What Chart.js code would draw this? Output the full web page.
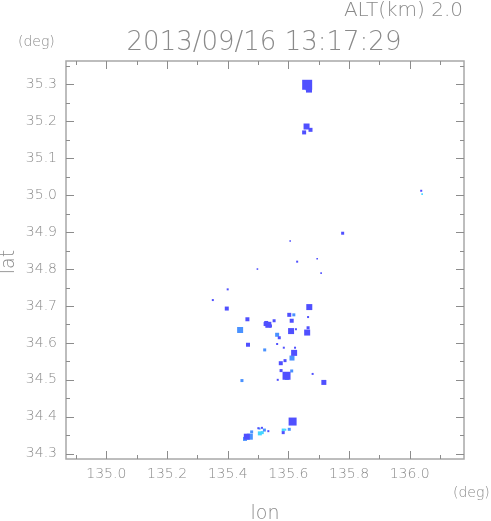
<!DOCTYPE html>
<html>
<head>
<meta charset="utf-8">
<script src="https://cdn.jsdelivr.net/npm/chart.js@4/dist/chart.umd.min.js"></script>
<style>
html,body{margin:0;padding:0;background:#fff;}
canvas{display:block;}
</style>
</head>
<body>
<canvas id="c" width="491" height="521"></canvas>
<script>
// ---- data (lon deg, lat deg, echo half-extent) ----
const titleText = "2013/09/16 13:17:29";
const altText = "ALT(km) 2.0";
const xTickLabels = ["135.0","135.2","135.4","135.6","135.8","136.0"];
const yTickLabels = ["34.3","34.4","34.5","34.6","34.7","34.8","34.9","35.0","35.1","35.2","35.3"];

const blueLon = [135.662,135.668,135.660,135.652,135.673,136.038,135.779,135.606,135.695,135.629,135.498,135.708,135.400,135.351,135.397,135.669,135.465,135.603,135.611,135.534,135.553,135.609,135.625,135.662,135.665,135.570,135.665,135.467,135.563,135.585,135.619,135.622,135.589,135.575,135.576,135.594,135.680,135.717,135.565,135.614,135.463,135.534,135.501,135.513,135.583,135.525,135.541,135.527];
const blueLat = [35.299,35.286,35.186,35.170,35.177,35.012,34.897,34.876,34.828,34.820,34.800,34.789,34.745,34.716,34.693,34.697,34.664,34.676,34.660,34.649,34.660,34.632,34.637,34.628,34.641,34.614,34.670,34.595,34.597,34.587,34.573,34.587,34.552,34.545,34.525,34.511,34.516,34.493,34.500,34.387,34.346,34.361,34.369,34.370,34.357,34.651,34.646,34.654];
const blueExt = [5,3,3,2,2,1,1.5,0.8,0.8,1,0.8,0.8,1,1,2,3,2,2,2,3,1.5,3,1,3,1.5,1.5,1,2,1,1,3,1,1.5,2,1.5,4,1,2.5,1,4,3,1,1,1,1.5,2,1.5,2];

const lightLon = [135.666,135.618,135.441,135.563,135.522,135.612,135.611,135.595,135.447,135.473,135.479,135.521,135.603,135.457,135.505];
const lightLat = [35.292,34.676,34.635,34.622,34.581,34.559,34.524,34.505,34.498,34.346,34.359,34.364,34.366,34.340,34.368];
const lightExt = [3,1.5,3,2,1.5,2.5,1.5,2,1.5,3,1.5,1.5,1.5,2,1];

const cyanLon = [136.041,135.506,135.583,135.590,135.514];
const cyanLat = [35.003,34.355,34.364,34.365,34.357];
const cyanExt = [0.8,2,1.5,1,1.5];

function pts(lon, lat, ext){
  return lon.map((v,i)=>({x:v, y:lat[i], r:ext[i]*Math.SQRT2}));
}

const X_MIN = 134.867, X_MAX = 136.179;
const Y_MIN = 34.2856, Y_MAX = 35.3634;
const TXT = "#8a8a8a";
const FONT = "'DejaVu Sans', sans-serif";

const decor = {
  id:'decor',
  afterDraw(chart){
    const ctx = chart.ctx, a = chart.chartArea;
    const xs = chart.scales.x, ys = chart.scales.y;
    ctx.save();
    // frame
    ctx.strokeStyle = "#a8a8a8";
    ctx.lineWidth = 1.5;
    ctx.strokeRect(a.left, a.top, a.right-a.left, a.bottom-a.top);
    // inward ticks
    ctx.lineWidth = 1;
    ctx.strokeStyle = "#8c8c8c";
    ctx.beginPath();
    for (let k = 1349; k <= 1361; k++){
      const v = k/10;
      const px = Math.round(xs.getPixelForValue(v))+0.5;
      const len = (k%2===0) ? 8 : 4;
      ctx.moveTo(px, a.bottom); ctx.lineTo(px, a.bottom-len);
      ctx.moveTo(px, a.top); ctx.lineTo(px, a.top+len);
    }
    for (let k = 686; k <= 707; k++){
      const v = k/20;
      const py = Math.round(ys.getPixelForValue(v))+0.5;
      const len = (k%2===0) ? 8 : 4;
      ctx.moveTo(a.left, py); ctx.lineTo(a.left+len, py);
      ctx.moveTo(a.right, py); ctx.lineTo(a.right-len, py);
    }
    ctx.stroke();
    // texts
    ctx.fillStyle = TXT;
    ctx.textBaseline = "alphabetic";
    ctx.font = "200 20px " + FONT;
    ctx.textAlign = "right";
    ctx.fillText(altText, 463, 16);
    ctx.font = "200 26px " + FONT;
    ctx.textAlign = "center";
    ctx.fillText(titleText, 264, 50);
    ctx.font = "200 14px " + FONT;
    ctx.textAlign = "left";
    ctx.fillText("(deg)", 18, 46);
    ctx.fillText("(deg)", 453, 497);
    ctx.font = "200 19px " + FONT;
    ctx.textAlign = "center";
    ctx.fillText("lon", 265, 519);
    ctx.translate(14, 262);
    ctx.rotate(-Math.PI/2);
    ctx.fillText("lat", 0, 0);
    ctx.restore();
  }
};

new Chart(document.getElementById('c'), {
  type: 'bubble',
  data: {
    datasets: [
      {data: pts(blueLon, blueLat, blueExt), backgroundColor: "#5050ff", borderWidth: 0, pointStyle: 'rect'},
      {data: pts(lightLon, lightLat, lightExt), backgroundColor: "#4a92ff", borderWidth: 0, pointStyle: 'rect'},
      {data: pts(cyanLon, cyanLat, cyanExt), backgroundColor: "#44d6ff", borderWidth: 0, pointStyle: 'rect'}
    ]
  },
  options: {
    responsive: false,
    animation: false,
    layout: {padding: {top: 61, right: 27, left: 0, bottom: 0}},
    plugins: {legend: {display: false}, tooltip: {enabled: false}, title: {display: false}},
    scales: {
      x: {
        type: 'linear', min: X_MIN, max: X_MAX,
        grid: {display: false, drawTicks: false},
        border: {display: false},
        afterFit(s){ s.height = 62; },
        afterBuildTicks(s){ s.ticks = xTickLabels.map(t=>({value: parseFloat(t)})); },
        ticks: {
          includeBounds: false, padding: 7, color: TXT, maxRotation: 0, autoSkip: false,
          font: {family: FONT, size: 14, weight: 200},
          callback: (v)=>Number(v).toFixed(1)
        }
      },
      y: {
        type: 'linear', min: Y_MIN, max: Y_MAX,
        grid: {display: false, drawTicks: false},
        border: {display: false},
        afterFit(s){ s.width = 66; },
        afterBuildTicks(s){ s.ticks = yTickLabels.map(t=>({value: parseFloat(t)})); },
        ticks: {
          includeBounds: false, padding: 9, color: TXT, autoSkip: false,
          font: {family: FONT, size: 14, weight: 200},
          callback: (v)=>Number(v).toFixed(1)
        }
      }
    }
  },
  plugins: [decor]
});
</script>
</body>
</html>
